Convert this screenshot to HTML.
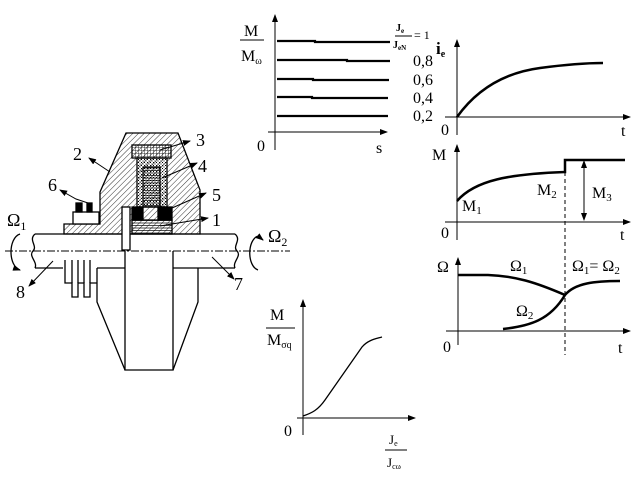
<!DOCTYPE html>
<html><head><meta charset="utf-8"><style>
html,body{margin:0;padding:0;background:#fff;}
svg text{font-family:"Liberation Serif",serif;fill:#000;}
</style></head><body>
<svg width="644" height="479" viewBox="0 0 644 479" xmlns="http://www.w3.org/2000/svg">
<defs>
<pattern id="h" width="4" height="4" patternUnits="userSpaceOnUse" patternTransform="rotate(45)">
<line x1="0" y1="0" x2="0" y2="4" stroke="#000" stroke-width="0.8"/></pattern>
<pattern id="g" width="3" height="3" patternUnits="userSpaceOnUse">
<path d="M0 0H3M0 0V3" stroke="#000" stroke-width="0.8" fill="none"/></pattern>
<pattern id="d" width="3" height="3" patternUnits="userSpaceOnUse">
<rect x="0" y="0" width="1" height="1" fill="#000"/><rect x="1.5" y="1.5" width="1" height="1" fill="#000"/></pattern>
<pattern id="l" width="4" height="2.5" patternUnits="userSpaceOnUse">
<line x1="0" y1="0.5" x2="4" y2="0.5" stroke="#000" stroke-width="0.7"/></pattern>
<marker id="a" markerWidth="8" markerHeight="6" refX="7" refY="3" orient="auto" markerUnits="userSpaceOnUse"><path d="M0 0L8 3L0 6z" fill="#000"/></marker>
</defs>
<g stroke="#000" stroke-width="1.3" fill="none">
<path d="M126 133H178L200 190V234H64V224H100V192Z" fill="url(#h)"/>
<rect x="73" y="212" width="26" height="12" fill="#fff"/>
<rect x="76" y="203" width="6" height="9" fill="#000"/>
<rect x="87" y="203" width="5" height="9" fill="#000"/>
<rect x="132" y="145" width="39" height="13" fill="url(#g)"/>
<rect x="137" y="158" width="30" height="49" fill="url(#d)"/>
<rect x="143" y="167" width="17" height="40" fill="url(#l)"/>
<rect x="132" y="207" width="11" height="13" fill="#000"/>
<rect x="158" y="207" width="14" height="13" fill="#000"/>
<rect x="132" y="220" width="40" height="14" fill="url(#l)"/>
<path d="M35 234H235M35 268H63M97 268H125M173 268H198M198 268H235" />
<path d="M35 234C28 240 38 246 33 251C28 256 38 262 35 268"/>
<path d="M235 234C242 240 232 246 237 251C242 256 232 262 235 268"/>
<rect x="122" y="207" width="8" height="43" fill="#fff"/>
<line x1="5" y1="251" x2="290" y2="251" stroke-dasharray="8,2,2,2" stroke-width="1"/>
<path d="M125 251V370H173V251"/>
<path d="M97 268V302L125 370M198 268V302L173 370"/>
<path d="M65 260V283H72V297H78V283H84V297H90V283H97"/>
<path d="M72 260V283M78 260V283M84 260V283M90 260V283"/>
<path d="M20 234C8 238 8 266 20 270" marker-end="url(#a)"/>
<path d="M258 236C247 240 247 266 258 270" />
<path d="M258 236L263 240" marker-end="url(#a)"/>
<g stroke-width="1">
<line x1="160" y1="150" x2="190" y2="141" marker-end="url(#a)"/>
<line x1="110" y1="172" x2="89" y2="158" marker-end="url(#a)"/>
<line x1="162" y1="178" x2="197" y2="163" marker-end="url(#a)"/>
<line x1="172" y1="208" x2="206" y2="193" marker-end="url(#a)"/>
<line x1="160" y1="226" x2="208" y2="218" marker-end="url(#a)"/>
<path d="M88 203L76 199L60 190" marker-end="url(#a)"/>
<line x1="53" y1="261" x2="29" y2="286" marker-end="url(#a)"/>
<line x1="212" y1="257" x2="234" y2="279" marker-end="url(#a)"/>
</g>
</g>
<g font-size="18">
<text x="196" y="146">3</text><text x="73" y="160">2</text><text x="198" y="172">4</text>
<text x="48" y="191">6</text><text x="212" y="201">5</text><text x="212" y="226">1</text>
<text x="16" y="298">8</text><text x="234" y="290">7</text>
<text x="7" y="226">Ω<tspan font-size="12" dy="4">1</tspan></text>
<text x="268" y="242">Ω<tspan font-size="12" dy="4">2</tspan></text>
</g>
<g stroke="#000" fill="none">
<line x1="275" y1="150" x2="275" y2="15" stroke-width="1" marker-end="url(#a)"/>
<line x1="268" y1="132" x2="387" y2="132" stroke-width="1" marker-end="url(#a)"/>
<g stroke-width="2.2">
<path d="M277 41H315V42H390"/><path d="M277 60H347V61H390"/><path d="M277 79H313V80H389"/><path d="M277 97H312V98H388"/><path d="M277 116H388"/>
</g>
<line x1="240" y1="40" x2="264" y2="40" stroke-width="1"/>
<line x1="395" y1="36" x2="412" y2="36" stroke-width="1"/>
</g>
<g font-size="16">
<text x="244" y="36">M</text><text x="241" y="61">M<tspan font-size="10" dy="3">ω</tspan></text>
<text x="257" y="151">0</text><text x="376" y="153">s</text>
<text x="396" y="31" font-size="10" font-weight="bold">J<tspan font-size="7" dy="2">e</tspan></text>
<text x="393" y="48" font-size="10" font-weight="bold">J<tspan font-size="7" dy="2">eN</tspan></text>
<text x="414" y="39" font-size="12">= 1</text>
<text x="413" y="66">0,8</text><text x="413" y="85">0,6</text><text x="413" y="103">0,4</text><text x="413" y="121">0,2</text>
<text x="436" y="54" font-weight="bold" font-size="17">i<tspan font-size="10" dy="3">e</tspan></text>
<text x="441" y="135">0</text><text x="621" y="136">t</text>
<text x="432" y="160">M</text>
<text x="462" y="211">M<tspan font-size="11" dy="3">1</tspan></text>
<text x="537" y="195">M<tspan font-size="11" dy="3">2</tspan></text>
<text x="592" y="198">M<tspan font-size="11" dy="3">3</tspan></text>
<text x="441" y="238">0</text><text x="620" y="240">t</text>
<text x="437" y="272">Ω</text>
<text x="510" y="271">Ω<tspan font-size="11" dy="3">1</tspan></text>
<text x="516" y="316">Ω<tspan font-size="11" dy="3">2</tspan></text>
<text x="572" y="271">Ω<tspan font-size="11" dy="3">1</tspan><tspan dy="-3">= Ω</tspan><tspan font-size="11" dy="3">2</tspan></text>
<text x="443" y="352">0</text><text x="618" y="353">t</text>
<text x="270" y="320">M</text><text x="267" y="345">M<tspan font-size="10" dy="3">σq</tspan></text>
<text x="284" y="436">0</text>
<text x="389" y="444" font-size="13">J<tspan font-size="8" dy="2">e</tspan></text>
<text x="387" y="467" font-size="13">J<tspan font-size="8" dy="2">cω</tspan></text>
</g>
<g stroke="#000" fill="none">
<line x1="457" y1="135" x2="457" y2="40" stroke-width="1" marker-end="url(#a)"/>
<line x1="445" y1="117" x2="630" y2="117" stroke-width="1" marker-end="url(#a)"/>
<path d="M457 117C480 85 510 72 540 68C570 64 590 63 603 63" stroke-width="2.5"/>
<line x1="457" y1="240" x2="457" y2="145" stroke-width="1" marker-end="url(#a)"/>
<line x1="445" y1="222" x2="630" y2="222" stroke-width="1" marker-end="url(#a)"/>
<path d="M457 201C475 180 510 174 565 172V160H625" stroke-width="2.5"/>
<line x1="565" y1="172" x2="565" y2="355" stroke-width="1" stroke-dasharray="4,3"/>
<line x1="584" y1="170" x2="584" y2="161" stroke-width="1" marker-end="url(#a)"/>
<line x1="584" y1="170" x2="584" y2="220" stroke-width="1" marker-end="url(#a)"/>
<line x1="458" y1="345" x2="458" y2="258" stroke-width="1" marker-end="url(#a)"/>
<line x1="446" y1="331" x2="630" y2="331" stroke-width="1" marker-end="url(#a)"/>
<path d="M458 275H488C515 276 535 282 565 295" stroke-width="2.5"/>
<path d="M503 329C530 326 550 320 565 295C575 283 595 281 620 281" stroke-width="2.5"/>
<line x1="303" y1="435" x2="303" y2="300" stroke-width="1" marker-end="url(#a)"/>
<line x1="297" y1="418" x2="415" y2="418" stroke-width="1" marker-end="url(#a)"/>
<path d="M303 416C312 413 318 410 325 400L362 347C368 340 375 339 382 337" stroke-width="1.3"/>
<line x1="266" y1="328" x2="295" y2="328" stroke-width="1"/>
<line x1="385" y1="450" x2="407" y2="450" stroke-width="1"/>
</g>
</svg>
</body></html>
